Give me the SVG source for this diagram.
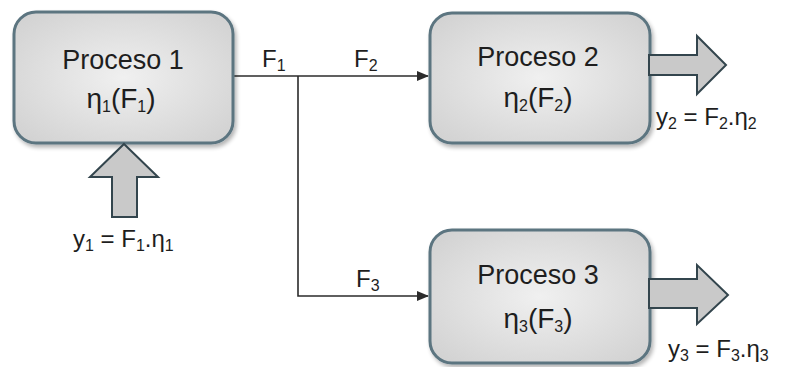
<svg xmlns="http://www.w3.org/2000/svg" width="791" height="367" viewBox="0 0 791 367">
<style>
.box{fill:url(#g);stroke:#5b7480;stroke-width:3}
.big{fill:#c9c9c9;stroke:#33454d;stroke-width:2;stroke-linejoin:miter}
.ln{fill:none;stroke:#2b2b2b;stroke-width:1.6}
text{font-family:"Liberation Sans",Arial,sans-serif;fill:#1e1e1e}
.t{font-size:27px;text-anchor:middle}
.e{font-size:28px;text-anchor:middle}
.l{font-size:24px}
.s{font-size:16px}
</style>
<defs>
<radialGradient id="g" cx="50%" cy="50%" r="65%">
<stop offset="0" stop-color="#f0f0f0"/>
<stop offset="1" stop-color="#d2d2d2"/>
</radialGradient>
<marker id="ah" markerWidth="12" markerHeight="10" refX="11" refY="5" orient="auto" markerUnits="userSpaceOnUse">
<path d="M0,0 L12,5 L0,10 Z" fill="#2b2b2b"/>
</marker>
<filter id="sh" x="-10%" y="-10%" width="125%" height="130%">
<feGaussianBlur in="SourceAlpha" stdDeviation="2"/>
<feOffset dx="2" dy="3"/>
<feComponentTransfer><feFuncA type="linear" slope="0.3"/></feComponentTransfer>
<feMerge><feMergeNode/><feMergeNode in="SourceGraphic"/></feMerge>
</filter>
</defs>

<g id="connectors">
<path class="ln" d="M233,76 H428" marker-end="url(#ah)"/>
<path class="ln" d="M298,76 V296 H428" marker-end="url(#ah)"/>
<text class="l" x="262" y="67">F<tspan class="s" dy="4">1</tspan></text>
<text class="l" x="354" y="67">F<tspan class="s" dy="4">2</tspan></text>
<text class="l" x="356" y="287">F<tspan class="s" dy="4">3</tspan></text>
</g>

<g id="proceso1">
<rect class="box" x="14" y="12" width="219" height="131" rx="22" filter="url(#sh)"/>
<text class="t" x="123" y="69">Proceso 1</text>
<text class="e" x="121" y="108">η<tspan class="s" dy="4">1</tspan><tspan dy="-4">(F</tspan><tspan class="s" dy="4">1</tspan><tspan dy="-4">)</tspan></text>
</g>

<g id="salida1">
<path class="big" d="M124,144 L158,177 L137,177 L137,217 L112,217 L112,177 L90,177 Z"/>
<text class="l" x="73" y="247">y<tspan class="s" dy="4">1</tspan><tspan dy="-4"> = F</tspan><tspan class="s" dy="4">1</tspan><tspan dy="-4">.η</tspan><tspan class="s" dy="4">1</tspan></text>
</g>

<g id="proceso2">
<rect class="box" x="430" y="13" width="220" height="130" rx="22" filter="url(#sh)"/>
<text class="t" x="538" y="66">Proceso 2</text>
<text class="e" x="538" y="107">η<tspan class="s" dy="4">2</tspan><tspan dy="-4">(F</tspan><tspan class="s" dy="4">2</tspan><tspan dy="-4">)</tspan></text>
</g>

<g id="salida2">
<path class="big" d="M649,55 L697,55 L697,36 L726,65 L697,94 L697,75 L649,75 Z"/>
<text class="l" x="656" y="125">y<tspan class="s" dy="4">2</tspan><tspan dy="-4"> = F</tspan><tspan class="s" dy="4">2</tspan><tspan dy="-4">.η</tspan><tspan class="s" dy="4">2</tspan></text>
</g>

<g id="proceso3">
<rect class="box" x="430" y="230" width="220" height="133" rx="22" filter="url(#sh)"/>
<text class="t" x="538" y="284">Proceso 3</text>
<text class="e" x="538" y="328">η<tspan class="s" dy="4">3</tspan><tspan dy="-4">(F</tspan><tspan class="s" dy="4">3</tspan><tspan dy="-4">)</tspan></text>
</g>

<g id="salida3">
<path class="big" d="M649,279 L697,279 L697,265 L728,295 L697,324 L697,308 L649,308 Z"/>
<text class="l" x="668" y="357">y<tspan class="s" dy="4">3</tspan><tspan dy="-4"> = F</tspan><tspan class="s" dy="4">3</tspan><tspan dy="-4">.η</tspan><tspan class="s" dy="4">3</tspan></text>
</g>
</svg>
